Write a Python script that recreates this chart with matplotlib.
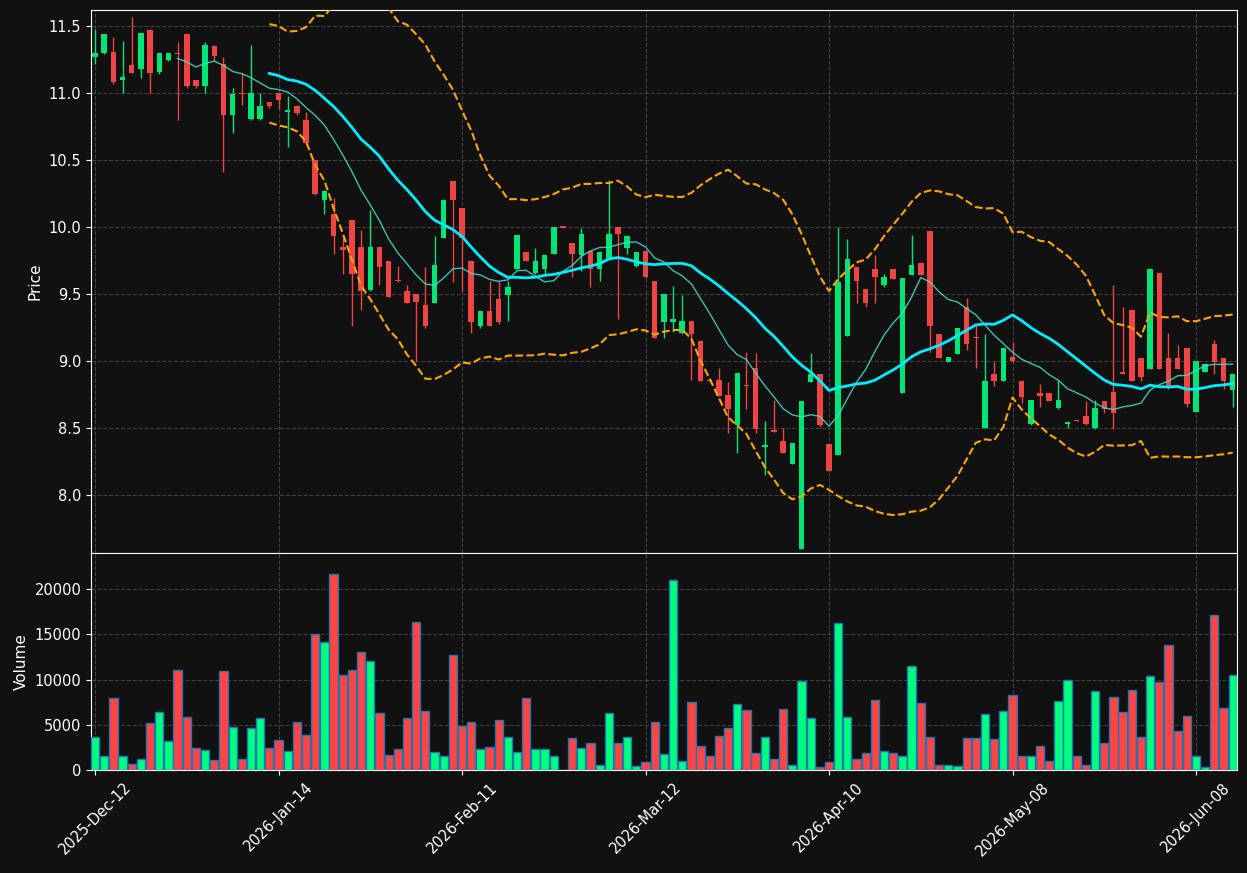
import numpy as np
import pandas as pd
import matplotlib
matplotlib.use("Agg")
import matplotlib.pyplot as plt

opens = [11.27, 11.30, 11.31, 11.10, 11.21, 11.18, 11.47, 11.16, 11.25, 11.30,
         11.44, 11.10, 11.05, 11.35, 11.22, 10.84, 11.00, 10.81, 10.81, 10.93,
         11.00, 10.86, 10.90, 10.80, 10.50, 10.20, 10.10, 9.85, 10.05, 9.85,
         9.53, 9.85, 9.75, 9.605, 9.52, 9.50, 9.42, 9.43, 9.92, 10.34,
         10.14, 9.75, 9.26, 9.37, 9.46, 9.49, 9.69, 9.81, 9.66, 9.69,
         9.80, 10.00, 9.88, 9.79, 9.82, 9.69, 9.77, 10.00, 9.84, 9.71,
         9.82, 9.60, 9.29, 9.29, 9.21, 9.30, 9.15, 8.86, 8.86, 8.75,
         8.52, 8.82, 8.95, 8.36, 8.48, 8.40, 8.23, 7.60, 8.84, 8.90,
         8.38, 8.30, 9.19, 9.70, 9.54, 9.69, 9.57, 9.69, 8.76, 9.64,
         9.73, 9.97, 9.20, 8.99, 9.05, 9.40, 9.18, 8.50, 8.90, 8.85,
         9.03, 8.85, 8.53, 8.76, 8.76, 8.65, 8.53, 8.555, 8.59, 8.50,
         8.70, 8.77, 8.92, 9.38, 9.02, 8.94, 9.66, 9.02, 9.02, 9.10,
         8.62, 8.92, 9.13, 9.02, 8.78]
highs = [11.48, 11.44, 11.42, 11.39, 11.57, 11.45, 11.48, 11.30, 11.30, 11.38,
         11.44, 11.10, 11.38, 11.36, 11.27, 11.04, 11.15, 11.36, 11.00, 10.93,
         11.00, 10.98, 10.90, 10.86, 10.50, 10.28, 10.22, 9.93, 10.05, 9.98,
         10.13, 9.85, 9.75, 9.71, 9.57, 9.50, 9.70, 9.93, 10.20, 10.34,
         10.14, 9.75, 9.37, 9.60, 9.60, 9.60, 9.94, 9.81, 9.84, 9.79,
         10.00, 10.00, 9.88, 9.99, 9.82, 9.81, 10.35, 10.00, 9.93, 9.81,
         9.82, 9.60, 9.50, 9.56, 9.49, 9.30, 9.16, 8.86, 8.95, 8.84,
         8.91, 9.07, 9.06, 8.55, 8.71, 8.50, 8.39, 8.70, 9.06, 8.90,
         8.38, 10.00, 9.91, 9.70, 9.54, 9.79, 9.65, 9.69, 9.62, 9.94,
         9.73, 9.97, 9.20, 9.03, 9.25, 9.47, 9.27, 9.20, 8.99, 9.10,
         9.14, 8.85, 8.71, 8.83, 8.76, 8.86, 8.54, 8.56, 8.70, 8.71,
         8.70, 9.57, 9.40, 9.38, 9.02, 9.69, 9.66, 9.21, 9.12, 9.10,
         9.00, 8.98, 9.16, 9.02, 8.90]
lows = [11.22, 11.29, 11.07, 11.00, 11.15, 11.11, 11.00, 11.14, 11.24, 10.80,
        11.04, 11.04, 11.00, 11.24, 10.41, 10.70, 10.91, 10.80, 10.80, 10.89,
        10.88, 10.60, 10.84, 10.62, 10.24, 10.10, 9.80, 9.65, 9.26, 9.38,
        9.52, 9.57, 9.48, 9.59, 9.43, 9.00, 9.25, 9.43, 9.92, 9.59,
        9.52, 9.21, 9.25, 9.26, 9.28, 9.30, 9.69, 9.75, 9.65, 9.65,
        9.80, 9.99, 9.63, 9.67, 9.55, 9.60, 9.77, 9.31, 9.80, 9.70,
        9.62, 9.17, 9.17, 9.22, 9.20, 8.86, 8.85, 8.85, 8.74, 8.46,
        8.31, 8.64, 8.46, 8.15, 8.47, 8.31, 8.23, 7.60, 8.84, 8.51,
        8.18, 8.30, 9.19, 9.43, 9.40, 9.43, 9.55, 9.61, 8.76, 9.64,
        9.64, 9.07, 9.02, 8.99, 9.05, 9.08, 8.95, 8.50, 8.81, 8.85,
        8.99, 8.69, 8.52, 8.66, 8.70, 8.64, 8.50, 8.55, 8.52, 8.49,
        8.61, 8.49, 8.90, 8.85, 8.85, 8.94, 8.94, 8.79, 8.94, 8.66,
        8.62, 8.92, 8.90, 8.79, 8.66]
closes = [11.30, 11.44, 11.08, 11.12, 11.15, 11.45, 11.15, 11.30, 11.30, 11.29,
          11.05, 11.05, 11.36, 11.28, 10.84, 10.99, 10.99, 11.00, 10.90, 10.90,
          10.95, 10.87, 10.85, 10.63, 10.25, 10.27, 9.93, 9.83, 9.65, 9.52,
          9.85, 9.70, 9.48, 9.595, 9.43, 9.44, 9.26, 9.72, 10.20, 10.20,
          9.92, 9.29, 9.37, 9.26, 9.29, 9.55, 9.94, 9.75, 9.75, 9.79,
          10.00, 9.995, 9.80, 9.95, 9.69, 9.81, 9.95, 9.95, 9.93, 9.81,
          9.63, 9.17, 9.50, 9.31, 9.30, 9.20, 8.85, 8.85, 8.74, 8.64,
          8.91, 8.81, 8.49, 8.37, 8.47, 8.31, 8.39, 8.70, 8.90, 8.52,
          8.18, 9.59, 9.76, 9.60, 9.43, 9.63, 9.63, 9.61, 9.62, 9.72,
          9.64, 9.26, 9.02, 9.03, 9.25, 9.13, 9.17, 8.85, 8.85, 9.10,
          9.00, 8.73, 8.71, 8.74, 8.70, 8.71, 8.54, 8.55, 8.53, 8.65,
          8.64, 8.61, 8.90, 8.85, 8.88, 9.69, 8.94, 8.80, 8.94, 8.68,
          9.00, 8.98, 8.99, 8.85, 8.90]
volumes = [3700, 1500, 8000, 1500, 700, 1200, 5200, 6400, 3200, 11100,
           5900, 2400, 2200, 1100, 11000, 4800, 1200, 4600, 5800, 2400,
           3300, 2100, 5300, 3900, 15000, 14200, 21700, 10500, 11100, 13000,
           12100, 6300, 1700, 2300, 5800, 16400, 6500, 1950, 1500, 12700,
           4900, 5300, 2300, 2500, 5500, 3700, 2000, 8000, 2300, 2300,
           1600, 50, 3500, 2400, 2950, 500, 6300, 2950, 3700, 400,
           850, 5300, 1800, 21000, 950, 7500, 2600, 1600, 3800, 4700,
           7350, 6600, 1850, 3600, 1200, 6800, 600, 9800, 5700, 300,
           850, 16300, 5900, 1200, 1850, 7700, 2150, 1850, 1600, 11450,
           7450, 3600, 600, 600, 400, 3500, 3500, 6150, 3400, 6500,
           8350, 1600, 1500, 2600, 950, 7600, 10000, 1500, 500, 8700,
           2950, 8100, 6400, 8900, 3700, 10350, 9700, 13800, 4300, 6000,
           1500, 300, 17100, 6900, 10550]
tick_pos = [0, 20, 40, 60, 80, 100, 120]
tick_labels = ["2025-Dec-12", "2026-Jan-14", "2026-Feb-11", "2026-Mar-12",
               "2026-Apr-10", "2026-May-08", "2026-Jun-08"]

df = pd.DataFrame({"open": opens, "high": highs, "low": lows,
                   "close": closes, "volume": volumes})
x = np.arange(len(df))
src = df["close"]
ma10 = src.rolling(10).mean()
ma20 = src.rolling(20).mean()
sd20 = src.rolling(20).std(ddof=1)
bb_up = ma20 + 2 * sd20
bb_lo = ma20 - 2 * sd20

BG = "#111111"
up_c, dn_c = "#00e676", "#ef4444"
vup_c, vdn_c = "#00ff7f", "#ff4444"

fig = plt.figure(figsize=(12.47, 8.73), dpi=100, facecolor=BG)
ax1 = fig.add_axes([0.07298, 0.36655, 0.91901, 0.62199])
ax2 = fig.add_axes([0.07298, 0.11798, 0.91901, 0.24857], sharex=ax1)

up = df["close"] >= df["open"]
ccol = np.where(up, up_c, dn_c)
vcol = np.where(up, vup_c, vdn_c)

for ax in (ax1, ax2):
    ax.set_facecolor(BG)
    for s in ax.spines.values():
        s.set_color("white")
    ax.tick_params(colors="white", labelsize=10.5)
    ax.grid(True, color="#555555", linestyle="--", linewidth=0.8, alpha=0.7)
    ax.set_axisbelow(True)

ax1.vlines(x, df["low"], df["high"], colors=ccol, linewidth=1.0, zorder=2)
body_lo = np.minimum(df["open"], df["close"])
body_h = np.maximum(np.abs(df["close"] - df["open"]), 0.012)
ax1.bar(x, body_h, bottom=body_lo, width=0.6, color=ccol, linewidth=0, zorder=3)

ax1.plot(x, ma10, color="#40e0d0", linewidth=1.0, alpha=0.85, zorder=4)
ax1.plot(x, ma20, color="#00eeff", linewidth=2.0, zorder=4)
ax1.plot(x, bb_up, color="orange", linestyle="--", linewidth=1.5, zorder=4)
ax1.plot(x, bb_lo, color="orange", linestyle="--", linewidth=1.5, zorder=4)

ax1.set_ylim(7.567, 11.62)
ax1.set_yticks(np.arange(8.0, 11.51, 0.5))
ax1.yaxis.set_major_formatter(matplotlib.ticker.FormatStrFormatter("%.1f"))
ax1.set_ylabel("Price", color="white", fontsize=11)
ax1.tick_params(axis="x", bottom=False, labelbottom=False)

ax2.bar(x, df["volume"], width=0.9, color=vcol, edgecolor="#1f77b4",
        linewidth=1.0, zorder=3)
ax2.set_ylim(0, 24000)
ax2.set_yticks([0, 5000, 10000, 15000, 20000])
ax2.set_ylabel("Volume", color="white", fontsize=11)
ax2.set_xlim(-0.44, 124.47)
ax2.set_xticks(tick_pos)
ax2.set_xticklabels(tick_labels, rotation=45)

fig.savefig("out.png", dpi=100, facecolor=BG)
